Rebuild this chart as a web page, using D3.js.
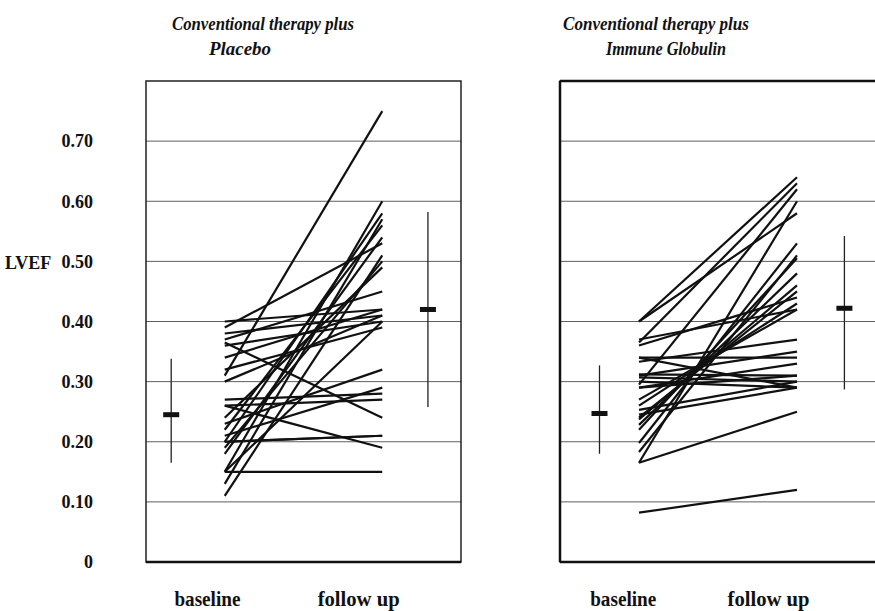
<!DOCTYPE html>
<html><head><meta charset="utf-8">
<script src="https://cdn.jsdelivr.net/npm/d3@7"></script>
<style>
html,body{margin:0;padding:0;background:#fff;}
text{font-family:"Liberation Serif","Times New Roman",serif;font-weight:bold;fill:#111;}
</style></head>
<body><svg id="c" width="875" height="611"></svg>
<script>
// ---- data ----
const panelTitles = [["Conventional therapy plus","Placebo"],["Conventional therapy plus","Immune Globulin"]];
const timepoints = ["baseline","follow up"];
const tickValues = [0,0.1,0.2,0.3,0.4,0.5,0.6,0.7];
const tickLabels = ["0","0.10","0.20","0.30","0.40","0.50","0.60","0.70"];
const yLabel = "LVEF";
// placebo: baseline / follow-up per patient
const placeboBaseline = [0.31,0.11,0.13,0.15,0.18,0.20,0.19,0.22,0.15,0.15,0.365,0.26,0.40,0.39,0.38,0.37,0.36,0.34,0.32,0.30,0.27,0.26,0.23,0.21,0.20,0.20,0.24];
const placeboFollowup = [0.75,0.51,0.57,0.60,0.54,0.58,0.50,0.56,0.15,0.40,0.24,0.19,0.42,0.53,0.41,0.45,0.40,0.42,0.39,0.41,0.28,0.27,0.32,0.29,0.21,0.21,0.49];
// immune globulin
const igBaseline = [0.40,0.365,0.40,0.295,0.165,0.198,0.183,0.22,0.228,0.237,0.24,0.26,0.37,0.27,0.36,0.34,0.333,0.31,0.29,0.312,0.307,0.30,0.29,0.253,0.245,0.165,0.34,0.082];
const igFollowup = [0.64,0.63,0.58,0.62,0.60,0.53,0.51,0.505,0.48,0.46,0.45,0.43,0.42,0.42,0.44,0.34,0.37,0.35,0.33,0.31,0.30,0.29,0.31,0.30,0.29,0.25,0.29,0.12];
// mean and range markers [mean, top, bottom]
const placeboSummary = [[0.245,0.338,0.165],[0.42,0.582,0.258]];
const igSummary = [[0.247,0.327,0.18],[0.422,0.542,0.287]];
// x positions (time units: baseline=0, follow up=1) of summary markers and axis labels
const placeboMarkerPos = [-0.34,1.29];
const igMarkerPos = [-0.25,1.30];
const placeboLabelPos = [-0.11,0.85];
const igLabelPos = [-0.10,0.82];

// ---- drawing ----
const svg = d3.select("#c");
const y = d3.scaleLinear().domain([0,0.8]).range([562,81]);
const panels = [
  {x: d3.scaleLinear().domain([-0.5,1.5]).range([146,461]), base: placeboBaseline, fol: placeboFollowup, sum: placeboSummary, mpos: placeboMarkerPos, lpos: placeboLabelPos, title: panelTitles[0], tx:[263,240], tw:[182,62]},
  {x: d3.scaleLinear().domain([-0.5,1.5]).range([560,876]), base: igBaseline, fol: igFollowup, sum: igSummary, mpos: igMarkerPos, lpos: igLabelPos, title: panelTitles[1], tx:[656,666], tw:[186,120]}
];

panels.forEach((p,pi)=>{
  const g = svg.append("g");
  const [x0,x1] = p.x.range();
  // gridlines
  g.selectAll("line.grid").data(tickValues.slice(1)).join("line")
    .attr("x1",x0).attr("x2",x1).attr("y1",d=>y(d)).attr("y2",d=>y(d))
    .attr("stroke","#5f5f5f").attr("stroke-width",1);
  // box
  g.append("rect").attr("x",x0).attr("y",y(0.8)).attr("width",x1-x0).attr("height",y(0)-y(0.8))
    .attr("fill","none").attr("stroke","#222").attr("stroke-width",1.5);
  g.append("line").attr("x1",x0).attr("x2",x1).attr("y1",y(0)).attr("y2",y(0)).attr("stroke","#111").attr("stroke-width",2.5);
  if(pi===1){
    g.append("line").attr("x1",x0).attr("x2",x1).attr("y1",y(0.8)).attr("y2",y(0.8)).attr("stroke","#111").attr("stroke-width",2.5);
    g.append("line").attr("x1",x0).attr("x2",x0).attr("y1",y(0.8)).attr("y2",y(0)).attr("stroke","#111").attr("stroke-width",2.5);
  }
  // patient lines
  const pairs = p.base.map((b,i)=>[b,p.fol[i]]);
  g.selectAll("line.pt").data(pairs).join("line")
    .attr("x1",p.x(0)).attr("x2",p.x(1)).attr("y1",d=>y(d[0])).attr("y2",d=>y(d[1]))
    .attr("stroke","#111").attr("stroke-width",2.2).attr("stroke-linecap","butt");
  // summary markers
  p.sum.forEach((s,i)=>{
    const cx = p.x(p.mpos[i]);
    g.append("line").attr("x1",cx).attr("x2",cx).attr("y1",y(s[1])).attr("y2",y(s[2])).attr("stroke","#222").attr("stroke-width",1.3);
    g.append("rect").attr("x",cx-8).attr("y",y(s[0])-2.5).attr("width",16).attr("height",5).attr("fill","#111");
  });
  // x labels
  timepoints.forEach((t,i)=>{
    svg.append("text").attr("x",p.x(p.lpos[i])).attr("y",606).attr("text-anchor","middle")
      .attr("font-size",20).attr("textLength", i===0?66:82).attr("lengthAdjust","spacingAndGlyphs").text(t);
  });
  // titles
  [0,1].forEach(k=>{
    svg.append("text").attr("x",p.tx[k]).attr("y",k===0?30:55).attr("text-anchor","middle")
      .attr("font-style","italic").attr("font-size",19)
      .attr("textLength",p.tw[k]).attr("lengthAdjust","spacingAndGlyphs").text(p.title[k]);
  });
});

// y axis labels
const ax = svg.append("g").attr("transform","translate(96,0)")
  .call(d3.axisLeft(y).tickValues(tickValues).tickSize(0).tickFormat((d,i)=>tickLabels[i]));
ax.select(".domain").remove();
ax.selectAll("text").attr("font-size",18).attr("font-family","Liberation Serif").attr("font-weight","bold").attr("fill","#111");
svg.append("text").attr("x",5).attr("y",269).attr("font-size",18).text(yLabel);
</script></body></html>
